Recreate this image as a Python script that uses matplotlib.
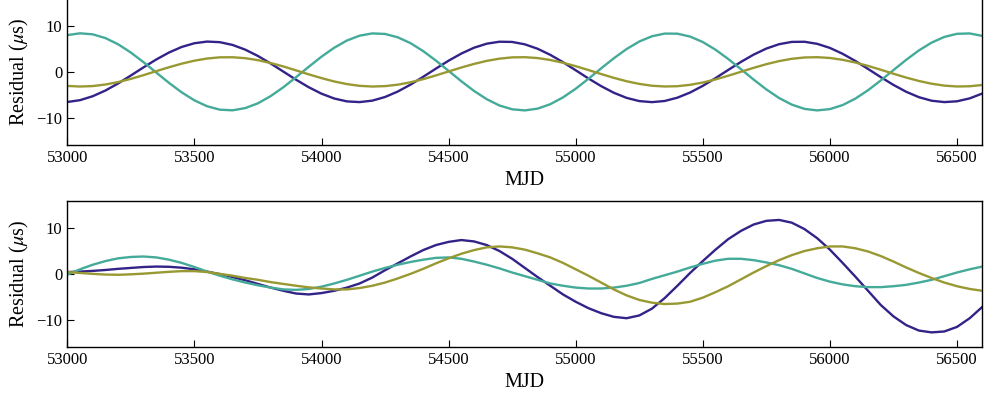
import numpy as np
import matplotlib.pyplot as plt

plt.rcParams['font.family'] = ['Liberation Serif', 'DejaVu Serif']
plt.rcParams['mathtext.fontset'] = 'stix'

# sample dates (MJD), every 50 days
mjd = np.arange(53000, 56601, 50)

# upper panel residuals (us)
top_navy = [-6.57, -6.17, -5.31, -4.07, -2.53, -0.80, 0.98, 2.69, 4.21, 5.42,
            6.23, 6.59, 6.46, 5.86, 4.83, 3.45, 1.82, 0.05, -1.72, -3.36,
            -4.76, -5.81, -6.44, -6.59, -6.27, -5.48, -4.29, -2.79, -1.09, 0.70,
            2.43, 3.98, 5.25, 6.13, 6.56, 6.51, 5.99, 5.03, 3.70, 2.10,
            0.34, -1.44, -3.11, -4.56, -5.67, -6.37, -6.60, -6.35, -5.63, -4.51,
            -3.05, -1.37, 0.41, 2.16, 3.75, 5.07, 6.02, 6.52, 6.55, 6.10,
            5.21, 3.93, 2.37, 0.63, -1.15, -2.85, -4.34, -5.52, -6.29, -6.59,
            -6.42, -5.78, -4.71]
top_teal = [8.00, 8.39, 8.17, 7.35, 6.00, 4.20, 2.10, -0.16, -2.40, -4.47,
            -6.21, -7.50, -8.24, -8.38, -7.90, -6.85, -5.29, -3.35, -1.16, 1.11,
            3.30, 5.25, 6.82, 7.88, 8.37, 8.25, 7.52, 6.25, 4.52, 2.45,
            0.21, -2.05, -4.16, -5.96, -7.33, -8.16, -8.40, -8.02, -7.05, -5.57,
            -3.68, -1.52, 0.75, 2.96, 4.96, 6.60, 7.75, 8.33, 8.31, 7.68,
            6.49, 4.82, 2.80, 0.58, -1.69, -3.83, -5.70, -7.14, -8.07, -8.40,
            -8.12, -7.24, -5.84, -4.01, -1.88, 0.38, 2.61, 4.66, 6.36, 7.60,
            8.28, 8.36, 7.82]
top_olive = [-3.07, -3.20, -3.10, -2.76, -2.23, -1.53, -0.72, 0.15, 1.00, 1.78,
             2.43, 2.90, 3.16, 3.18, 2.97, 2.54, 1.92, 1.17, 0.32, -0.55,
             -1.37, -2.10, -2.67, -3.05, -3.20, -3.11, -2.80, -2.28, -1.59, -0.78,
             0.08, 0.94, 1.72, 2.39, 2.87, 3.15, 3.19, 3.00, 2.58, 1.98,
             1.23, 0.39, -0.48, -1.31, -2.05, -2.63, -3.03, -3.19, -3.13, -2.83,
             -2.33, -1.65, -0.85, 0.01, 0.87, 1.67, 2.34, 2.84, 3.13, 3.19,
             3.02, 2.62, 2.03, 1.29, 0.46, -0.41, -1.25, -1.99, -2.59, -3.00,
             -3.19, -3.14, -2.86]

# lower panel residuals (us)
bot_navy = [0.4, 0.5, 0.65, 0.85, 1.1, 1.3, 1.5, 1.6, 1.55, 1.35,
            1.0, 0.5, -0.05, -0.7, -1.4, -2.2, -3.0, -3.7, -4.3, -4.5,
            -4.2, -3.7, -3.0, -2.1, -0.8, 0.8, 2.3, 3.8, 5.2, 6.3,
            7.0, 7.4, 7.1, 6.3, 5.0, 3.3, 1.3, -0.7, -2.6, -4.5,
            -6.1, -7.5, -8.6, -9.4, -9.7, -9.1, -7.6, -5.3, -2.6, 0.2,
            2.8, 5.3, 7.6, 9.4, 10.8, 11.6, 11.8, 11.2, 9.8, 7.8,
            5.3, 2.4, -0.6, -3.7, -6.8, -9.3, -11.2, -12.4, -12.8, -12.6,
            -11.6, -9.7, -7.2]
bot_teal = [-0.2, 1.0, 2.0, 2.8, 3.4, 3.7, 3.8, 3.6, 3.1, 2.4,
            1.5, 0.5, -0.4, -1.2, -1.9, -2.5, -3.0, -3.4, -3.5, -3.3,
            -2.8, -2.1, -1.3, -0.4, 0.5, 1.3, 2.0, 2.6, 3.1, 3.5,
            3.6, 3.3, 2.7, 2.0, 1.2, 0.3, -0.5, -1.3, -2.1, -2.6,
            -3.0, -3.2, -3.2, -3.0, -2.6, -2.0, -1.1, -0.3, 0.5, 1.4,
            2.2, 2.9, 3.3, 3.3, 3.0, 2.5, 1.9, 1.1, 0.1, -0.9,
            -1.7, -2.3, -2.7, -2.9, -2.9, -2.7, -2.4, -1.9, -1.3, -0.5,
            0.3, 1.0, 1.6]
bot_olive = [0.4, 0.2, 0.0, -0.15, -0.2, -0.1, 0.05, 0.25, 0.45, 0.6,
             0.6, 0.4, 0.0, -0.4, -0.9, -1.3, -1.8, -2.2, -2.6, -2.95,
             -3.2, -3.4, -3.4, -3.1, -2.6, -1.9, -1.0, 0.0, 1.1, 2.3,
             3.4, 4.4, 5.2, 5.8, 6.0, 5.8, 5.3, 4.5, 3.6, 2.4,
             1.0, -0.4, -1.9, -3.4, -4.7, -5.7, -6.3, -6.6, -6.5, -6.1,
             -5.2, -4.0, -2.7, -1.2, 0.3, 1.7, 3.0, 4.1, 5.0, 5.6,
             6.0, 6.0, 5.6, 4.9, 3.9, 2.7, 1.4, 0.2, -0.9, -1.9,
             -2.7, -3.3, -3.7]

colors = ['#332288', '#44AA99', '#999933']

fig = plt.figure(figsize=(9.84, 3.96), dpi=100)
ax1 = fig.add_axes([0.0684, 0.6331, 0.930, 0.371])
ax2 = fig.add_axes([0.0684, 0.1237, 0.930, 0.3694])

panels = [(ax1, [top_navy, top_teal, top_olive]),
          (ax2, [bot_navy, bot_teal, bot_olive])]

for ax, series in panels:
    for ys, c in zip(series, colors):
        ax.plot(mjd, ys, color=c, lw=1.7, solid_joinstyle='round')
    ax.set_xlim(53000, 56600)
    ax.set_ylim(-16, 16)
    ax.set_xticks([53000, 53500, 54000, 54500, 55000, 55500, 56000, 56500])
    ax.set_yticks([-10, 0, 10])
    ax.tick_params(direction='in', length=5, width=0.8, labelsize=12,
                   top=False, right=False)
    ax.set_xlabel('MJD', fontsize=14.5, labelpad=3.5)
    ax.set_ylabel(r'Residual ($\mu$s)', fontsize=14.5, labelpad=4)
    for sp in ax.spines.values():
        sp.set_linewidth(1.0)

fig.savefig('out.png', dpi=100)
